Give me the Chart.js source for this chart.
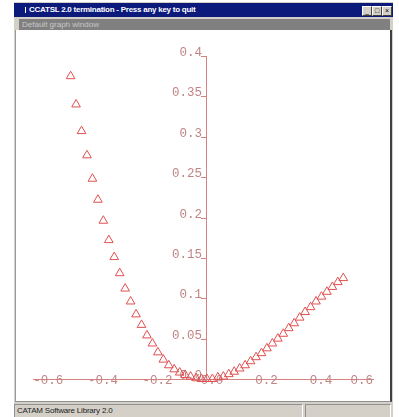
<!DOCTYPE html>
<html>
<head>
<meta charset="utf-8">
<script src="https://cdn.jsdelivr.net/npm/chart.js"></script>
<style>
  html, body { margin: 0; padding: 0; background: #fff; }
  body { width: 399px; height: 417px; position: relative; overflow: hidden; font-family: 'Liberation Sans', Arial, sans-serif; }
  .frame { position: absolute; left: 14px; top: 2px; width: 379px; height: 415px; background: #d4d0c8; }
  .titlebar { position: absolute; left: 14px; top: 3px; width: 379px; height: 14px; background: #0c1a7c; }
  .titlebar .txt { position: absolute; left: 15px; top: 1px; color: #fff; font-weight: bold; font-size: 8px; line-height: 12px; white-space: nowrap; letter-spacing: -0.25px; }
  .titlebar .ico { position: absolute; left: 11px; top: 4px; width: 1px; height: 6px; background: #fff; }
  .btn { position: absolute; top: 3px; width: 8px; height: 8px; background: #d4d0c8; border: 1px solid; border-color: #fff #404040 #404040 #fff; font-size: 7px; line-height: 8px; text-align: center; color: #000; }
  .subbar { position: absolute; left: 19px; top: 19px; width: 371px; height: 11px; background: #808080; }
  .subbar .txt { position: absolute; left: 3px; top: 0px; color: #c8c8c8; font-size: 8px; line-height: 11px; white-space: nowrap; }
  .client { position: absolute; left: 15px; top: 30px; width: 374px; height: 371px; background: #fff; border-left: 1px solid #9a9a9a; border-right: 2px solid #404040; border-bottom: 1px solid #909090; }
  .status { position: absolute; left: 14px; top: 403px; width: 379px; height: 14px; background: #d4d0c8; }
  .status .p1 { position: absolute; left: 0px; top: 1px; width: 287px; height: 12px; border: 1px solid; border-color: #909090 #fff #fff #909090; }
  .status .p2 { position: absolute; left: 291px; top: 1px; width: 84px; height: 12px; border: 1px solid; border-color: #909090 #fff #fff #909090; }
  .status .txt { position: absolute; left: 2px; top: 0px; color: #222; font-size: 8px; line-height: 12px; white-space: nowrap; letter-spacing: -0.2px; }
  #wrap { position: absolute; left: 20px; top: 31px; width: 368px; height: 363px; }
</style>
</head>
<body>
<div class="frame"></div>
<div class="titlebar">
  <div class="ico"></div>
  <div class="txt">CCATSL 2.0 termination - Press any key to quit</div>
  <div class="btn" style="left:348px">_</div>
  <div class="btn" style="left:358px">□</div>
  <div class="btn" style="left:368px">×</div>
</div>
<div class="subbar"><div class="txt">Default graph window</div></div>
<div class="client"></div>
<div class="status">
  <div class="p1"><div class="txt">CATAM Software Library 2.0</div></div>
  <div class="p2"></div>
</div>
<div id="wrap"><canvas id="myChart" width="368" height="363"></canvas></div>

<script>
  const xValues = [
    -0.50, -0.48, -0.46, -0.44, -0.42, -0.40, -0.38, -0.36, -0.34, -0.32,
    -0.30, -0.28, -0.26, -0.24, -0.22, -0.20, -0.18, -0.16, -0.14, -0.12,
    -0.10, -0.08, -0.06, -0.04, -0.02, 0.00, 0.02, 0.04, 0.06, 0.08,
    0.10, 0.12, 0.14, 0.16, 0.18, 0.20, 0.22, 0.24, 0.26, 0.28,
    0.30, 0.32, 0.34, 0.36, 0.38, 0.40, 0.42, 0.44, 0.46, 0.48, 0.50
  ];
  const yValues = [
    0.375, 0.340, 0.307, 0.277, 0.248, 0.222, 0.196, 0.172, 0.151, 0.131,
    0.112, 0.096, 0.080, 0.067, 0.054, 0.044, 0.033, 0.024, 0.017, 0.012,
    0.008, 0.005, 0.003, 0.001, 0.000, 0.000, 0.000, 0.002, 0.003, 0.006,
    0.009, 0.013, 0.017, 0.022, 0.027, 0.032, 0.038, 0.044, 0.050, 0.056,
    0.063, 0.069, 0.076, 0.083, 0.089, 0.096, 0.102, 0.108, 0.114, 0.120, 0.125
  ];

  const xTicks = [-0.6, -0.4, -0.2, 0, 0.2, 0.4, 0.6];
  const xTickLabels = ['-0.6', '-0.4', '-0.2', '0.0', '0.2', '0.4', '0.6'];
  const yTicks = [0, 0.05, 0.1, 0.15, 0.2, 0.25, 0.3, 0.35, 0.4];
  const yTickLabels = ['0.0', '0.05', '0.1', '0.15', '0.2', '0.25', '0.3', '0.35', '0.4'];

  const axisColor = '#d98080';
  const labelColor = '#c08585';

  // labels like the old CATAM plot: y labels sit on the tick, x labels straddle the axis
  const axisLabels = {
    id: 'axisLabels',
    beforeDatasetsDraw(chart) {
      const ctx = chart.ctx;
      const xs = chart.scales.x;
      const ys = chart.scales.y;
      const x0 = xs.getPixelForValue(0);
      const y0 = ys.getPixelForValue(0);
      ctx.save();
      ctx.font = '12.5px "Liberation Mono", monospace';
      ctx.fillStyle = labelColor;
      ctx.strokeStyle = axisColor;
      ctx.lineWidth = 1;

      ctx.textAlign = 'right';
      ctx.textBaseline = 'alphabetic';
      yTicks.forEach(function(v, i) {
        const py = Math.round(ys.getPixelForValue(v)) + 0.5;
        ctx.fillText(yTickLabels[i], x0 - 5, py - 1);
        ctx.beginPath();
        ctx.moveTo(x0 - 6, py);
        ctx.lineTo(x0, py);
        ctx.stroke();
      });

      ctx.textAlign = 'center';
      ctx.textBaseline = 'middle';
      const rightLimit = chart.chartArea.right;
      xTicks.forEach(function(v, i) {
        const w = ctx.measureText(xTickLabels[i]).width;
        let px = xs.getPixelForValue(v) + 5;
        if (px + w / 2 > rightLimit) px = rightLimit - w / 2;
        ctx.fillText(xTickLabels[i], px, y0 + 1.5);
      });
      ctx.restore();
    }
  };

  const data = {
    datasets: [
      {
        data: xValues.map(function(x, i) { return { x: x, y: yValues[i] }; }),
        pointStyle: 'triangle',
        pointRadius: 5,
        borderColor: '#e05050',
        backgroundColor: 'rgba(255,255,255,0)',
        borderWidth: 1,
        showLine: false,
        clip: false
      }
    ]
  };

  const config = {
    type: 'scatter',
    data: data,
    plugins: [axisLabels],
    options: {
      responsive: false,
      animation: false,
      layout: {
        padding: { left: 13, right: 15, top: 25, bottom: 15 }
      },
      plugins: {
        legend: { display: false },
        tooltip: { enabled: false }
      },
      scales: {
        x: {
          type: 'linear',
          min: -0.638,
          max: 0.609,
          position: { y: 0 },
          grid: { display: false, drawTicks: false },
          ticks: { display: false },
          border: { display: true, color: axisColor, width: 1 }
        },
        y: {
          type: 'linear',
          min: 0,
          max: 0.4,
          position: { x: 0 },
          grid: { display: false, drawTicks: false },
          ticks: { display: false },
          border: { display: true, color: axisColor, width: 1 }
        }
      }
    }
  };

  const myChart = new Chart(
    document.getElementById('myChart'),
    config
  );
</script>
</body>
</html>
